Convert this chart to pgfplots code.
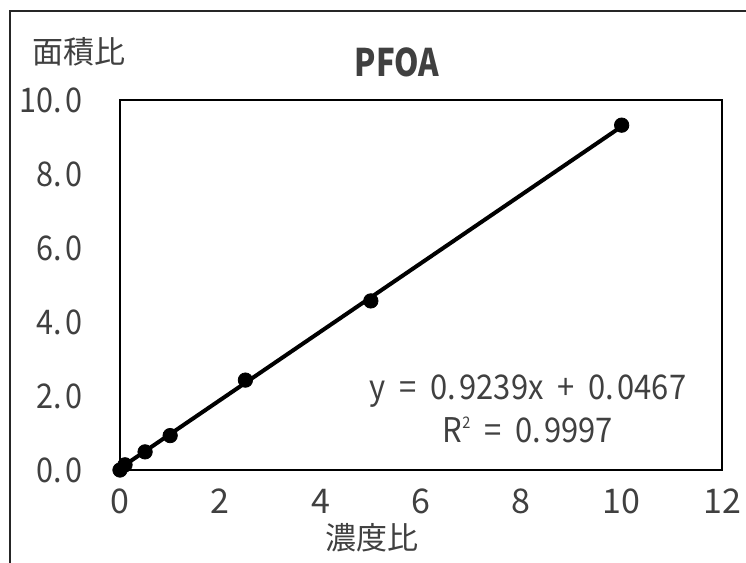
\documentclass[border=0pt]{standalone}
\usepackage{pgfplots}
\pgfplotsset{compat=1.18}
\usepackage{fontspec}
\setmainfont{Noto Sans CJK JP}
\definecolor{txt}{HTML}{404040}
\newcommand{\yl}[1]{\scalebox{0.9}[1]{#1.\hspace{0.12em}0}}
\begin{document}
\begin{tikzpicture}
\path[use as bounding box] (0,0) rectangle (373pt,-281.5pt);
\draw[line width=1.2pt,black!85] (5pt,-281.5pt) -- (5pt,-5.5pt) -- (373pt,-5.5pt);
\begin{axis}[
  at={(60pt,-235pt)}, anchor=south west,
  scale only axis, width=301pt, height=185pt,
  xmin=0, xmax=12, ymin=0, ymax=10,
  xtick={0,2,...,12}, ytick={0,2,...,10},
  yticklabels={\yl{0},\yl{2},\yl{4},\yl{6},\yl{8},\yl{10}},
  major tick length=0pt,
  axis line style={line width=0.8pt, black},
  /pgf/number format/assume math mode=true,
  tick label style={font=\fontsize{17}{20}\selectfont, text=txt},
  yticklabel style={xshift=-15pt},
  xticklabel style={yshift=-6pt},
  clip=false,
]
\addplot[line width=2pt, black] coordinates {(0,0.0467) (10,9.2857)};
\addplot[only marks, mark=*, mark size=3.6pt, black] coordinates {
(0,0) (0.1,0.14) (0.5,0.49) (1,0.93) (2.5,2.43) (5,4.57) (10,9.32)};
\node[font=\fontsize{17}{20}\selectfont, text=txt] at (axis cs:8.13,2.14) {\scalebox{0.91}[1]{y\hspace{0.45em}=\hspace{0.45em}0.\hspace{0.1em}9239x\hspace{0.45em}+\hspace{0.45em}0.\hspace{0.1em}0467}};
\node[font=\fontsize{17}{20}\selectfont, text=txt] at (axis cs:8.13,1.08) {\scalebox{0.91}[1]{R\raisebox{0.75ex}{\fontsize{8}{8}\selectfont 2}\hspace{0.45em}=\hspace{0.45em}0.\hspace{0.1em}9997}};
\end{axis}
\node[font=\fontsize{19}{22}\bfseries\selectfont, text=txt] at (198.5pt,-31pt) {\scalebox{0.82}[1]{PFOA}};
\node[font=\fontsize{15.5}{18}\selectfont, text=txt] at (39.5pt,-26pt) {面積比};
\node[font=\fontsize{15.5}{18}\selectfont, text=txt] at (186pt,-269pt) {濃度比};
\end{tikzpicture}
\end{document}
